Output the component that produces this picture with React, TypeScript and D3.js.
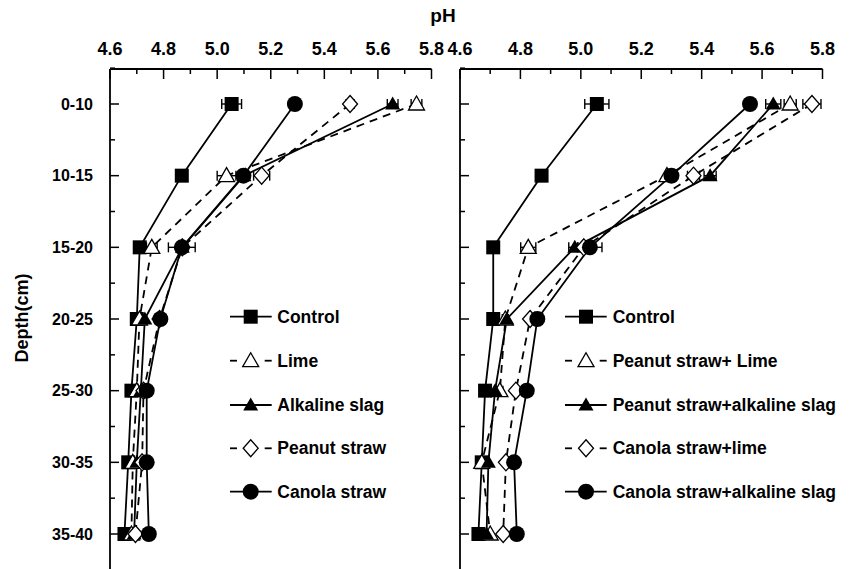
import React from "react";
import * as d3 from "d3";

const depths = ["0-10", "10-15", "15-20", "20-25", "25-30", "30-35", "35-40"];
const xTicks = [4.6, 4.8, 5.0, 5.2, 5.4, 5.6, 5.8];

// Left panel
const leftNames = ["Control", "Lime", "Alkaline slag", "Peanut straw", "Canola straw"];
const leftControl = [5.054, 4.868, 4.711, 4.70, 4.68, 4.668, 4.654];
const leftLime = [5.744, 5.035, 4.756, 4.71, 4.70, 4.685, 4.68];
const leftSlag = [5.655, 5.10, 4.87, 4.73, 4.715, 4.70, 4.69];
const leftPeanut = [5.496, 5.166, 4.87, 4.785, 4.725, 4.72, 4.695];
const leftCanola = [5.29, 5.098, 4.868, 4.788, 4.737, 4.737, 4.745];
const leftControlErr = [0.037, 0, 0, 0.01, 0.01, 0, 0];
const leftLimeErr = [0.02, 0.035, 0.02, 0.01, 0, 0, 0];
const leftSlagErr = [0.02, 0, 0, 0, 0, 0, 0];
const leftPeanutErr = [0.015, 0.03, 0, 0, 0, 0, 0];
const leftCanolaErr = [0, 0, 0.05, 0.02, 0, 0, 0];

// Right panel
const rightNames = [
  "Control",
  "Peanut straw+ Lime",
  "Peanut straw+alkaline slag",
  "Canola straw+lime",
  "Canola straw+alkaline slag",
];
const rightControl = [5.053, 4.87, 4.71, 4.71, 4.683, 4.672, 4.661];
const rightPLime = [5.693, 5.285, 4.826, 4.75, 4.732, 4.672, 4.70];
const rightPSlag = [5.637, 5.428, 4.98, 4.755, 4.716, 4.694, 4.688];
const rightCLime = [5.765, 5.373, 5.01, 4.832, 4.785, 4.752, 4.743];
const rightCSlag = [5.56, 5.30, 5.03, 4.856, 4.821, 4.779, 4.788];
const rightControlErr = [0.04, 0, 0, 0, 0, 0, 0];
const rightPLimeErr = [0.02, 0, 0.025, 0.01, 0.01, 0, 0];
const rightPSlagErr = [0.025, 0.02, 0.02, 0, 0, 0, 0];
const rightCLimeErr = [0.03, 0.02, 0.02, 0, 0, 0, 0];
const rightCSlagErr = [0, 0.015, 0.04, 0, 0, 0, 0];

const markerTypes = ["square", "openTri", "filledTri", "openDiamond", "circle"];
const dashedFlags = [false, true, false, true, false];

const FONT = "'Liberation Sans', Arial, sans-serif";

type Series = { name: string; values: number[]; errs: number[]; marker: string; dashed: boolean };

function Marker({ type, x, y }: { type: string; x: number; y: number }) {
  switch (type) {
    case "square":
      return <rect x={x - 7} y={y - 7} width={14} height={14} fill="#000" />;
    case "circle":
      return <circle cx={x} cy={y} r={8} fill="#000" />;
    case "filledTri":
      return <path d={`M${x},${y - 7.5}L${x + 7.5},${y + 5.5}L${x - 7.5},${y + 5.5}Z`} fill="#000" />;
    case "openTri":
      return (
        <path d={`M${x},${y - 8}L${x + 8},${y + 6}L${x - 8},${y + 6}Z`} fill="#fff" stroke="#000" strokeWidth={1.3} />
      );
    case "openDiamond":
      return (
        <path d={`M${x},${y - 8.5}L${x + 7.5},${y}L${x},${y + 8.5}L${x - 7.5},${y}Z`} fill="#fff" stroke="#000" strokeWidth={1.3} />
      );
  }
  return null;
}

function Panel({
  x0,
  x1,
  series,
  legendX,
  legendText,
}: {
  x0: number;
  x1: number;
  series: Series[];
  legendX: number[];
  legendText: number;
}) {
  const x = d3.scaleLinear().domain([4.6, 5.8]).range([x0, x1]);
  const y = d3.scalePoint<string>().domain(depths).range([104, 534]);
  const step = y.step();
  const axisTop = 69;
  const line = d3
    .line<number>()
    .x((v) => x(v))
    .y((_, i) => y(depths[i]) as number);
  const minorX = d3.range(4.6, 5.81, 0.1).map((v) => Math.round(v * 10) / 10);
  const yMinor = depths.map((d) => (y(d) as number) - step / 2).concat([(y(depths[6]) as number) + step / 2]);
  const legendRows = [316.7, 360.7, 405, 448.3, 491.7];
  return (
    <g>
      {/* top axis */}
      <line x1={x0} x2={x1} y1={axisTop} y2={axisTop} stroke="#000" strokeWidth={1.8} />
      {minorX.map((v, i) => (
        <line
          key={"xt" + i}
          x1={x(v)}
          x2={x(v)}
          y1={axisTop}
          y2={axisTop + (i % 2 === 0 ? 10 : 5)}
          stroke="#000"
          strokeWidth={1.5}
        />
      ))}
      {xTicks.map((v) => (
        <text
          key={"xl" + v}
          x={x(v)}
          y={55}
          textAnchor="middle"
          fontFamily={FONT}
          fontWeight="bold"
          fontSize={18}
          fill="#000"
        >
          {v.toFixed(1)}
        </text>
      ))}
      {/* left axis */}
      <line x1={x0} x2={x0} y1={axisTop} y2={575} stroke="#000" strokeWidth={1.8} />
      {depths.map((d) => (
        <line key={"yt" + d} x1={x0} x2={x0 + 9} y1={y(d)} y2={y(d)} stroke="#000" strokeWidth={1.5} />
      ))}
      {yMinor.map((v, i) => (
        <line key={"ym" + i} x1={x0} x2={x0 + 5} y1={v} y2={v} stroke="#000" strokeWidth={1.5} />
      ))}
      {/* series */}
      {series.map((s, si) => (
        <g key={"s" + si}>
          <path
            d={line(s.values) || ""}
            fill="none"
            stroke="#000"
            strokeWidth={1.8}
            strokeDasharray={s.dashed ? "8,6" : undefined}
          />
          {s.values.map((v, i) =>
            s.errs[i] > 0 ? (
              <g key={"e" + i}>
                <line x1={x(v - s.errs[i])} x2={x(v + s.errs[i])} y1={y(depths[i])} y2={y(depths[i])} stroke="#000" strokeWidth={1.4} />
                <line x1={x(v - s.errs[i])} x2={x(v - s.errs[i])} y1={(y(depths[i]) as number) - 5} y2={(y(depths[i]) as number) + 5} stroke="#000" strokeWidth={1.4} />
                <line x1={x(v + s.errs[i])} x2={x(v + s.errs[i])} y1={(y(depths[i]) as number) - 5} y2={(y(depths[i]) as number) + 5} stroke="#000" strokeWidth={1.4} />
              </g>
            ) : null
          )}
        </g>
      ))}
      {series.map((s, si) => (
        <g key={"m" + si}>
          {s.values.map((v, i) => (
            <Marker key={i} type={s.marker} x={x(v)} y={y(depths[i]) as number} />
          ))}
        </g>
      ))}
      {/* legend */}
      {series.map((s, si) => {
        const ly = legendRows[si];
        const [lx0, lm, lx1] = legendX;
        return (
          <g key={"l" + si}>
            {s.dashed ? (
              <>
                <line x1={lx0} x2={lx0 + 7} y1={ly} y2={ly} stroke="#000" strokeWidth={1.8} />
                <line x1={lx1 - 7} x2={lx1} y1={ly} y2={ly} stroke="#000" strokeWidth={1.8} />
              </>
            ) : (
              <line x1={lx0} x2={lx1} y1={ly} y2={ly} stroke="#000" strokeWidth={1.8} />
            )}
            <Marker type={s.marker} x={lm} y={ly} />
            <text
              x={legendText}
              y={ly}
              dominantBaseline="central"
              fontFamily={FONT}
              fontWeight="bold"
              fontSize={17.5}
              fill="#000"
            >
              {s.name}
            </text>
          </g>
        );
      })}
    </g>
  );
}

export default function App() {
  const y = d3.scalePoint<string>().domain(depths).range([104, 534]);
  const leftValues = [leftControl, leftLime, leftSlag, leftPeanut, leftCanola];
  const leftErrs = [leftControlErr, leftLimeErr, leftSlagErr, leftPeanutErr, leftCanolaErr];
  const rightValues = [rightControl, rightPLime, rightPSlag, rightCLime, rightCSlag];
  const rightErrs = [rightControlErr, rightPLimeErr, rightPSlagErr, rightCLimeErr, rightCSlagErr];
  const leftSeries: Series[] = leftNames.map((n, i) => ({
    name: n,
    values: leftValues[i],
    errs: leftErrs[i],
    marker: markerTypes[i],
    dashed: dashedFlags[i],
  }));
  const rightSeries: Series[] = rightNames.map((n, i) => ({
    name: n,
    values: rightValues[i],
    errs: rightErrs[i],
    marker: markerTypes[i],
    dashed: dashedFlags[i],
  }));
  return (
    <svg
      width={861}
      height={569}
      style={{ position: "absolute", left: 0, top: 0, background: "#fff" }}
    >
      <rect width={861} height={569} fill="#fff" />
      <text x={443} y={22} textAnchor="middle" fontFamily={FONT} fontWeight="bold" fontSize={19} fill="#000">
        pH
      </text>
      <text
        transform={`translate(28,318) rotate(-90)`}
        textAnchor="middle"
        fontFamily={FONT}
        fontWeight="bold"
        fontSize={18}
        fill="#000"
      >
        Depth(cm)
      </text>
      {depths.map((d) => (
        <text
          key={d}
          x={93}
          y={y(d)}
          textAnchor="end"
          dominantBaseline="central"
          fontFamily={FONT}
          fontWeight="bold"
          fontSize={16}
          fill="#000"
        >
          {d}
        </text>
      ))}
      <Panel x0={110} x1={431.5} series={leftSeries} legendX={[230, 250.7, 271.7]} legendText={277.3} />
      <Panel x0={460} x1={822.5} series={rightSeries} legendX={[565, 586, 606.7]} legendText={612.7} />
    </svg>
  );
}
